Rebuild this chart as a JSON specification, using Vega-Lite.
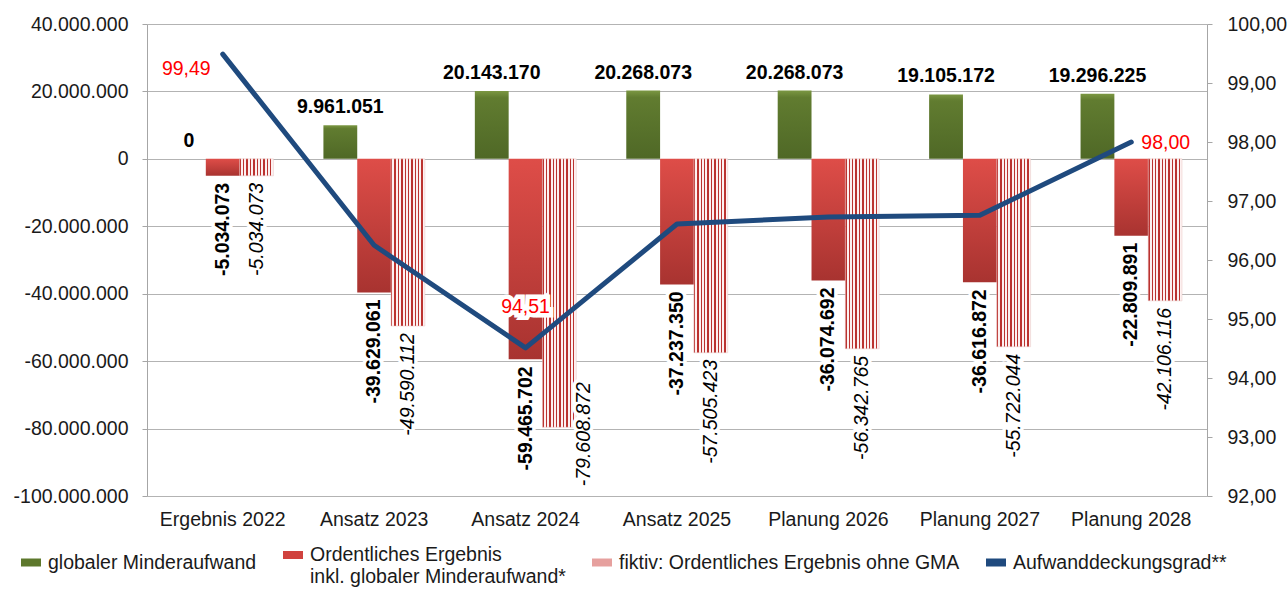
{
  "$schema": "https://vega.github.io/schema/vega-lite/v6.json",
  "width": 1060,
  "height": 472,
  "autosize": {"type": "none"},
  "padding": {"left": 147, "top": 24, "right": 81, "bottom": 100},
  "background": "white",
  "config": {
    "locale": {"number": {"decimal": ",", "thousands": ".", "grouping": [3], "currency": ["", " €"], "minus": "-"}},
    "font": "Liberation Sans",
    "view": {"stroke": null},
    "axis": {"labelFont": "Liberation Sans", "labelFontSize": 19.5, "labelColor": "#1a1a1a", "domainColor": "#a6a6a6", "tickColor": "#a6a6a6", "gridColor": "#b3b3b3", "title": null},
    "legend": {"labelFont": "Liberation Sans", "labelFontSize": 19.5, "labelColor": "#1a1a1a"}
  },
  "datasets": {
    "bars": [
      {"cat": "Ergebnis 2022", "series": "globaler Minderaufwand", "value": 0},
      {"cat": "Ergebnis 2022", "series": "Ordentliches Ergebnis inkl. globaler Minderaufwand*", "value": -5034073},
      {"cat": "Ergebnis 2022", "series": "fiktiv: Ordentliches Ergebnis ohne GMA", "value": -5034073},
      {"cat": "Ansatz 2023", "series": "globaler Minderaufwand", "value": 9961051},
      {"cat": "Ansatz 2023", "series": "Ordentliches Ergebnis inkl. globaler Minderaufwand*", "value": -39629061},
      {"cat": "Ansatz 2023", "series": "fiktiv: Ordentliches Ergebnis ohne GMA", "value": -49590112},
      {"cat": "Ansatz 2024", "series": "globaler Minderaufwand", "value": 20143170},
      {"cat": "Ansatz 2024", "series": "Ordentliches Ergebnis inkl. globaler Minderaufwand*", "value": -59465702},
      {"cat": "Ansatz 2024", "series": "fiktiv: Ordentliches Ergebnis ohne GMA", "value": -79608872},
      {"cat": "Ansatz 2025", "series": "globaler Minderaufwand", "value": 20268073},
      {"cat": "Ansatz 2025", "series": "Ordentliches Ergebnis inkl. globaler Minderaufwand*", "value": -37237350},
      {"cat": "Ansatz 2025", "series": "fiktiv: Ordentliches Ergebnis ohne GMA", "value": -57505423},
      {"cat": "Planung 2026", "series": "globaler Minderaufwand", "value": 20268073},
      {"cat": "Planung 2026", "series": "Ordentliches Ergebnis inkl. globaler Minderaufwand*", "value": -36074692},
      {"cat": "Planung 2026", "series": "fiktiv: Ordentliches Ergebnis ohne GMA", "value": -56342765},
      {"cat": "Planung 2027", "series": "globaler Minderaufwand", "value": 19105172},
      {"cat": "Planung 2027", "series": "Ordentliches Ergebnis inkl. globaler Minderaufwand*", "value": -36616872},
      {"cat": "Planung 2027", "series": "fiktiv: Ordentliches Ergebnis ohne GMA", "value": -55722044},
      {"cat": "Planung 2028", "series": "globaler Minderaufwand", "value": 19296225},
      {"cat": "Planung 2028", "series": "Ordentliches Ergebnis inkl. globaler Minderaufwand*", "value": -22809891},
      {"cat": "Planung 2028", "series": "fiktiv: Ordentliches Ergebnis ohne GMA", "value": -42106116}
    ],
    "line": [
      {"cat": "Ergebnis 2022", "adg": 99.49},
      {"cat": "Ansatz 2023", "adg": 96.25},
      {"cat": "Ansatz 2024", "adg": 94.51},
      {"cat": "Ansatz 2025", "adg": 96.61},
      {"cat": "Planung 2026", "adg": 96.73},
      {"cat": "Planung 2027", "adg": 96.76},
      {"cat": "Planung 2028", "adg": 98.0}
    ]
  },
  "layer": [
    {
      "data": {"name": "bars"},
      "encoding": {
        "x": {
          "field": "cat", "type": "nominal",
          "scale": {"domain": ["Ergebnis 2022", "Ansatz 2023", "Ansatz 2024", "Ansatz 2025", "Planung 2026", "Planung 2027", "Planung 2028"], "paddingInner": 0.33, "paddingOuter": 0.165},
          "axis": {"labelAngle": 0, "domain": false, "ticks": false, "labelPadding": 14}
        },
        "xOffset": {"field": "series", "type": "nominal", "scale": {"domain": ["globaler Minderaufwand", "Ordentliches Ergebnis inkl. globaler Minderaufwand*", "fiktiv: Ordentliches Ergebnis ohne GMA"], "paddingInner": 0, "paddingOuter": 0}},
        "y": {
          "field": "value", "type": "quantitative",
          "scale": {"domain": [-100000000, 40000000], "nice": false},
          "axis": {"orient": "left", "values": [-100000000, -80000000, -60000000, -40000000, -20000000, 0, 20000000, 40000000], "format": ",.0f", "grid": true, "tickSize": 5, "labelPadding": 14}
        }
      },
      "layer": [
        {
          "transform": [{"filter": "datum.series === 'globaler Minderaufwand'"}],
          "mark": {"type": "bar", "fill": {"gradient": "linear", "x1": 0, "y1": 0, "x2": 0, "y2": 1, "stops": [{"offset": 0, "color": "#7b9742"}, {"offset": 0.1, "color": "#617c30"}, {"offset": 1, "color": "#4f6826"}]}}
        },
        {
          "transform": [{"filter": "datum.series === 'Ordentliches Ergebnis inkl. globaler Minderaufwand*'"}],
          "mark": {"type": "bar", "fill": {"gradient": "linear", "x1": 0, "y1": 0, "x2": 0, "y2": 1, "stops": [{"offset": 0, "color": "#de4d48"}, {"offset": 1, "color": "#a83330"}]}}
        },
        {
          "transform": [{"filter": "datum.series === 'fiktiv: Ordentliches Ergebnis ohne GMA'"}],
          "mark": {"type": "bar", "stroke": "#e8c4c3", "strokeWidth": 0.5, "fill": {"gradient": "linear", "x1": 0, "y1": 0, "x2": 1, "y2": 0, "stops": [
            {"offset": 0, "color": "#bb3330"}, {"offset": 0.04, "color": "#bb3330"}, {"offset": 0.04, "color": "#fdf1f1"}, {"offset": 0.1, "color": "#fdf1f1"},
            {"offset": 0.1, "color": "#bb3330"}, {"offset": 0.14, "color": "#bb3330"}, {"offset": 0.14, "color": "#fdf1f1"}, {"offset": 0.2, "color": "#fdf1f1"},
            {"offset": 0.2, "color": "#bb3330"}, {"offset": 0.24, "color": "#bb3330"}, {"offset": 0.24, "color": "#fdf1f1"}, {"offset": 0.3, "color": "#fdf1f1"},
            {"offset": 0.3, "color": "#bb3330"}, {"offset": 0.34, "color": "#bb3330"}, {"offset": 0.34, "color": "#fdf1f1"}, {"offset": 0.4, "color": "#fdf1f1"},
            {"offset": 0.4, "color": "#bb3330"}, {"offset": 0.44, "color": "#bb3330"}, {"offset": 0.44, "color": "#fdf1f1"}, {"offset": 0.5, "color": "#fdf1f1"},
            {"offset": 0.5, "color": "#bb3330"}, {"offset": 0.54, "color": "#bb3330"}, {"offset": 0.54, "color": "#fdf1f1"}, {"offset": 0.6, "color": "#fdf1f1"},
            {"offset": 0.6, "color": "#bb3330"}, {"offset": 0.64, "color": "#bb3330"}, {"offset": 0.64, "color": "#fdf1f1"}, {"offset": 0.7, "color": "#fdf1f1"},
            {"offset": 0.7, "color": "#bb3330"}, {"offset": 0.74, "color": "#bb3330"}, {"offset": 0.74, "color": "#fdf1f1"}, {"offset": 0.8, "color": "#fdf1f1"},
            {"offset": 0.8, "color": "#bb3330"}, {"offset": 0.84, "color": "#bb3330"}, {"offset": 0.84, "color": "#fdf1f1"}, {"offset": 0.9, "color": "#fdf1f1"},
            {"offset": 0.9, "color": "#bb3330"}, {"offset": 0.94, "color": "#bb3330"}, {"offset": 0.94, "color": "#fdf1f1"}, {"offset": 1, "color": "#fdf1f1"}
          ]}}
        },
        {
          "transform": [{"filter": "datum.series === 'globaler Minderaufwand'"}],
          "mark": {"type": "text", "fontSize": 19.5, "fontWeight": "bold", "baseline": "alphabetic", "dy": -12, "color": "#000000"},
          "encoding": {"text": {"field": "value", "type": "quantitative", "format": ",.0f"}}
        },
        {
          "transform": [{"filter": "datum.series === 'Ordentliches Ergebnis inkl. globaler Minderaufwand*'"}],
          "mark": {"type": "text", "fontSize": 19.5, "fontWeight": "bold", "angle": 270, "align": "right", "baseline": "middle", "dx": -7, "color": "#ffffff", "stroke": "#ffffff", "strokeWidth": 7},
          "encoding": {"text": {"field": "value", "type": "quantitative", "format": ",.0f"}}
        },
        {
          "transform": [{"filter": "datum.series === 'Ordentliches Ergebnis inkl. globaler Minderaufwand*'"}],
          "mark": {"type": "text", "fontSize": 19.5, "fontWeight": "bold", "angle": 270, "align": "right", "baseline": "middle", "dx": -7, "color": "#000000"},
          "encoding": {"text": {"field": "value", "type": "quantitative", "format": ",.0f"}}
        },
        {
          "transform": [{"filter": "datum.series === 'fiktiv: Ordentliches Ergebnis ohne GMA' && datum.cat !== 'Ansatz 2024'"}],
          "mark": {"type": "text", "fontSize": 19.5, "fontStyle": "italic", "angle": 270, "align": "right", "baseline": "middle", "dx": -7, "color": "#ffffff", "stroke": "#ffffff", "strokeWidth": 7},
          "encoding": {"text": {"field": "value", "type": "quantitative", "format": ",.0f"}}
        },
        {
          "transform": [{"filter": "datum.series === 'fiktiv: Ordentliches Ergebnis ohne GMA' && datum.cat !== 'Ansatz 2024'"}],
          "mark": {"type": "text", "fontSize": 19.5, "fontStyle": "italic", "angle": 270, "align": "right", "baseline": "middle", "dx": -7, "color": "#000000"},
          "encoding": {"text": {"field": "value", "type": "quantitative", "format": ",.0f"}}
        },
        {
          "transform": [{"filter": "datum.series === 'fiktiv: Ordentliches Ergebnis ohne GMA' && datum.cat === 'Ansatz 2024'"}],
          "mark": {"type": "text", "fontSize": 19.5, "fontStyle": "italic", "angle": 270, "align": "center", "baseline": "middle", "dx": -7, "dy": 25, "color": "#ffffff", "stroke": "#ffffff", "strokeWidth": 7},
          "encoding": {"text": {"field": "value", "type": "quantitative", "format": ",.0f"}}
        },
        {
          "transform": [{"filter": "datum.series === 'fiktiv: Ordentliches Ergebnis ohne GMA' && datum.cat === 'Ansatz 2024'"}],
          "mark": {"type": "text", "fontSize": 19.5, "fontStyle": "italic", "angle": 270, "align": "center", "baseline": "middle", "dx": -7, "dy": 25, "color": "#000000"},
          "encoding": {"text": {"field": "value", "type": "quantitative", "format": ",.0f"}}
        }
      ]
    },
    {
      "data": {"name": "line"},
      "encoding": {
        "x": {"field": "cat", "type": "nominal"},
        "y": {
          "field": "adg", "type": "quantitative",
          "scale": {"domain": [92, 100], "nice": false, "zero": false},
          "axis": {"orient": "right", "values": [92, 93, 94, 95, 96, 97, 98, 99, 100], "format": ".2f", "grid": false, "tickSize": 5, "labelPadding": 15}
        }
      },
      "layer": [
        {
          "mark": {"type": "line", "strokeWidth": 5, "strokeCap": "round", "strokeJoin": "round"},
          "encoding": {
            "color": {
              "datum": "Aufwanddeckungsgrad**",
              "scale": {"domain": ["globaler Minderaufwand", "Ordentliches Ergebnis inkl. globaler Minderaufwand*", "fiktiv: Ordentliches Ergebnis ohne GMA", "Aufwanddeckungsgrad**"], "range": ["#5d782c", "#d0423e", "#e6a09e", "#1f4a7e"]},
              "legend": {
                "title": null, "orient": "none", "legendX": -130, "legendY": 517, "direction": "horizontal",
                "columnPadding": 10, "symbolType": "stroke", "symbolStrokeWidth": 8, "symbolSize": 400, "labelOffset": 3, "labelLimit": 500,
                "labelExpr": "datum.label === 'Ordentliches Ergebnis inkl. globaler Minderaufwand*' ? ['Ordentliches Ergebnis', 'inkl. globaler Minderaufwand*'] : datum.label"
              }
            }
          }
        },
        {
          "transform": [{"filter": "datum.cat === 'Ergebnis 2022'"}],
          "mark": {"type": "text", "fontSize": 19.5, "color": "#ff0000", "align": "right", "baseline": "middle", "dx": -12, "dy": 15},
          "encoding": {"text": {"field": "adg", "type": "quantitative", "format": ".2f"}}
        },
        {
          "transform": [{"filter": "datum.cat === 'Ansatz 2024'"}],
          "mark": {"type": "text", "fontSize": 19.5, "color": "#ffffff", "stroke": "#ffffff", "strokeWidth": 9, "align": "center", "baseline": "middle", "dy": -41},
          "encoding": {"text": {"field": "adg", "type": "quantitative", "format": ".2f"}}
        },
        {
          "transform": [{"filter": "datum.cat === 'Ansatz 2024'"}],
          "mark": {"type": "text", "fontSize": 19.5, "color": "#ff0000", "align": "center", "baseline": "middle", "dy": -41},
          "encoding": {"text": {"field": "adg", "type": "quantitative", "format": ".2f"}}
        },
        {
          "transform": [{"filter": "datum.cat === 'Planung 2028'"}],
          "mark": {"type": "text", "fontSize": 19.5, "color": "#ff0000", "align": "left", "baseline": "middle", "dx": 10, "dy": 1},
          "encoding": {"text": {"field": "adg", "type": "quantitative", "format": ".2f"}}
        }
      ]
    }
  ],
  "resolve": {"scale": {"y": "independent"}, "axis": {"y": "independent"}}
}
